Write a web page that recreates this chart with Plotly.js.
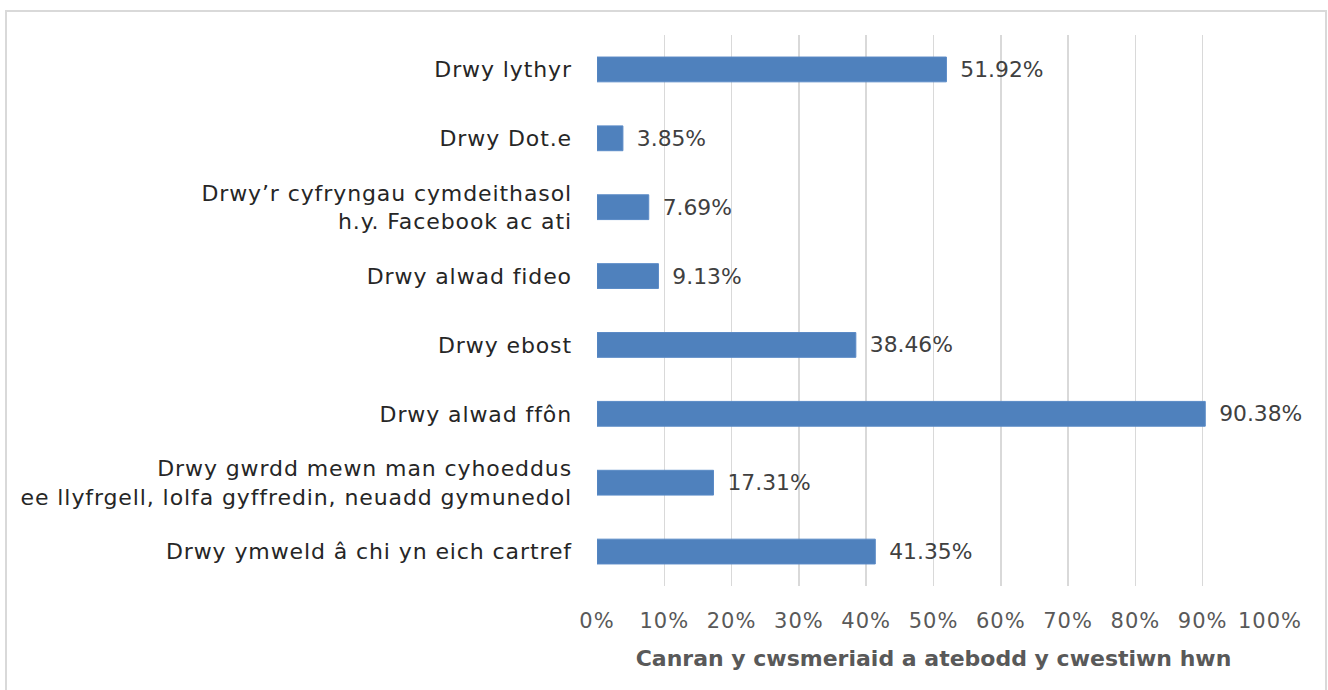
<!DOCTYPE html>
<html>
<head>
<meta charset="utf-8">
<script src="https://cdn.plot.ly/plotly-3.0.1.min.js"></script>
<style>
  html, body { margin: 0; padding: 0; background: #ffffff; }
  #wrap { position: relative; width: 1328px; height: 690px; overflow: hidden; }
  #chart { width: 1328px; height: 690px; }
  #frame { position: absolute; left: 5px; top: 10px; width: 1322px; height: 700px;
           border: 2px solid #d9d9d9; box-sizing: border-box; pointer-events: none; }
  #chart .ytick text { letter-spacing: 0.9px; }
  #chart .xtick text { letter-spacing: 1px; }
</style>
</head>
<body>
<div id="wrap">
  <div id="chart"></div>
  <div id="frame"></div>
</div>
<script>
const categories = [
  "Drwy lythyr",
  "Drwy Dot.e",
  "Drwy’r cyfryngau cymdeithasol<br>h.y. Facebook ac ati",
  "Drwy alwad fideo",
  "Drwy ebost",
  "Drwy alwad ffôn",
  "Drwy gwrdd mewn man cyhoeddus<br>ee llyfrgell, lolfa gyffredin, neuadd gymunedol",
  "Drwy ymweld â chi yn eich cartref"
];
const values = [51.92, 3.85, 7.69, 9.13, 38.46, 90.38, 17.31, 41.35];
const tickValues = [0, 10, 20, 30, 40, 50, 60, 70, 80, 90, 100];
const tickLabels = ["0%", "10%", "20%", "30%", "40%", "50%", "60%", "70%", "80%", "90%", "100%"];
const xTitle = "Canran y cwsmeriaid a atebodd y cwestiwn hwn";

const FONT = "DejaVu Sans, sans-serif";

const trace = {
  type: "bar",
  orientation: "h",
  y: categories,
  x: values,
  marker: { color: "#4F81BD", line: { color: "#5A8AC6", width: 1 } },
  text: values.map(v => v.toFixed(2) + "%"),
  textposition: "outside",
  texttemplate: "\u2002%{text}",
  textfont: { family: FONT, size: 22, color: "#404040" },
  cliponaxis: false,
  hoverinfo: "none"
};

const layout = {
  width: 1328,
  height: 690,
  margin: { l: 597, r: 58, t: 35, b: 104, pad: 0 },
  paper_bgcolor: "#ffffff",
  plot_bgcolor: "#ffffff",
  showlegend: false,
  bargap: 0.64,
  font: { family: FONT },
  xaxis: {
    range: [0, 100],
    tickmode: "array",
    tickvals: tickValues,
    ticktext: tickLabels,
    showgrid: true,
    gridcolor: "#d9d9d9",
    gridwidth: 1.5,
    zeroline: false,
    showline: false,
    ticks: "",
    ticklabelstandoff: 20,
    tickfont: { family: FONT, size: 21, color: "#595959" },
    title: {
      text: "<b>" + xTitle + "</b>",
      font: { family: FONT, size: 22, color: "#595959" },
      standoff: 18
    },
    fixedrange: true
  },
  yaxis: {
    type: "category",
    autorange: "reversed",
    showgrid: false,
    zeroline: false,
    showline: false,
    ticks: "",
    ticklabelstandoff: 24,
    tickfont: { family: FONT, size: 22, color: "#262626" },
    fixedrange: true
  }
};

Plotly.newPlot("chart", [trace], layout, { displayModeBar: false, staticPlot: true });
</script>
</body>
</html>
